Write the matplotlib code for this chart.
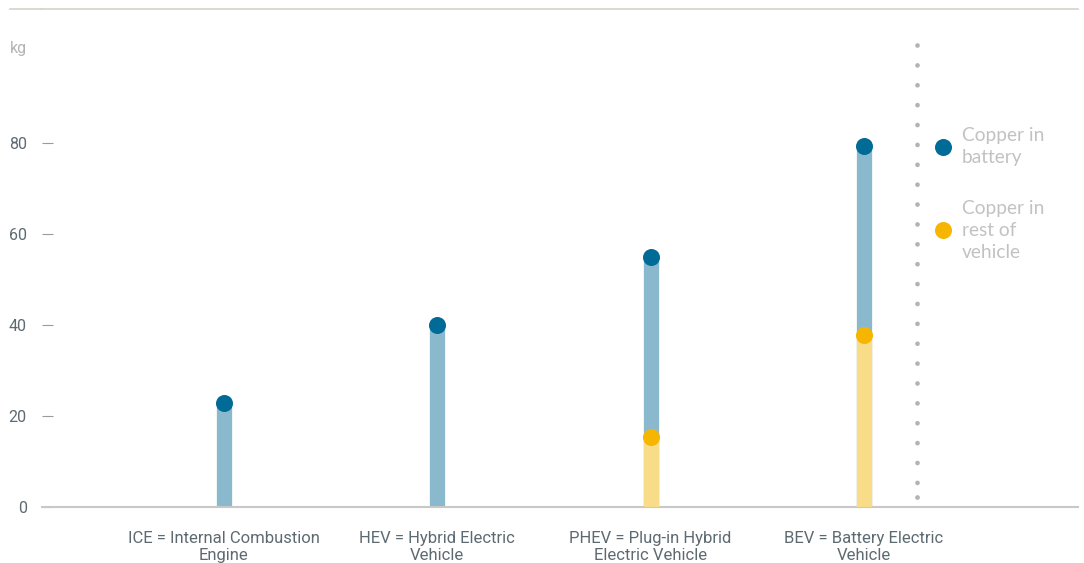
import matplotlib.pyplot as plt

# copper content per vehicle type, kg
vehicles = ["ICE = Internal Combustion\nEngine",
            "HEV = Hybrid Electric\nVehicle",
            "PHEV = Plug-in Hybrid\nElectric Vehicle",
            "BEV = Battery Electric\nVehicle"]
copper_total = [22.8, 40, 55, 79.4]
copper_rest = [None, None, 15.5, 37.8]
yticks = [0, 20, 40, 60, 80]

dark_blue = "#006b97"
light_blue = "#8ab9cd"
yellow = "#f6b500"
light_yellow = "#f8dc88"
tick_grey = "#5e6a72"

fig = plt.figure(figsize=(10.84, 5.63), dpi=100)
W, H = 1084, 563
ax = fig.add_axes([42 / W, (H - 507) / H, (1078 - 42) / W, (507 - 9) / H])

x = list(range(len(vehicles)))
ax.set_xlim(-0.853, 4.004)
ax.set_ylim(0, 109.5)

# stems and dots
for i, tot in enumerate(copper_total):
    ax.plot([i, i], [0, tot], color=light_blue, lw=11, solid_capstyle="butt", zorder=2)
    rest = copper_rest[i]
    if rest is not None:
        ax.plot([i, i], [0, rest], color=light_yellow, lw=11, solid_capstyle="butt", zorder=3)
        ax.scatter(i, rest, s=150, color=yellow, zorder=5, linewidths=0)
    ax.scatter(i, tot, s=150, color=dark_blue, zorder=5, linewidths=0)

# dotted separator before the legend (drawn top-down so the pattern starts at the top)
sep_x = 3.249
ax.plot([sep_x, sep_x], [101.5, 2.2], color="#b3b3b3", lw=3.4,
        linestyle=(0, (0.01, 4.2)), dash_capstyle="round", zorder=1)
ax.plot([sep_x], [2.2], "o", color="#b3b3b3", ms=3.4, mew=0, zorder=1)

# legend
leg_kw = dict(va="center", ha="left", fontsize=13.8, color="#c2c2c2",
              family="Lato", linespacing=1.38)
ax.scatter(3.371, 79.2, s=150, color=dark_blue, linewidths=0, clip_on=False)
ax.text(3.46, 79.3, "Copper in\nbattery", **leg_kw)
ax.scatter(3.371, 60.9, s=150, color=yellow, linewidths=0, clip_on=False)
ax.text(3.46, 60.8, "Copper in\nrest of\nvehicle", **leg_kw)

# spines
for s in ["left", "right"]:
    ax.spines[s].set_visible(False)
ax.spines["bottom"].set_color("#c8c8c8")
ax.spines["bottom"].set_linewidth(1.5)
ax.spines["top"].set_color("#d6d2cb")
ax.spines["top"].set_linewidth(1.2)

ax.set_xticks(x)
ax.set_xticklabels(vehicles, fontsize=12, color=tick_grey, family="Roboto",
                   linespacing=1.2)
ax.tick_params(axis="x", length=0, pad=17)

ax.set_yticks(yticks)
ax.set_yticklabels([str(v) for v in yticks], fontsize=11.5, color=tick_grey, family="Roboto")
ax.tick_params(axis="y", length=8, width=0.8, color="#9a9a9a", pad=11, direction="in")

ax.text(-0.965, 100.8, "kg", fontsize=11.5, color="#b3b3b3", family="Roboto",
        va="center", ha="center", clip_on=False)

# top line extends further left than the axes
fig.add_artist(plt.Line2D([10 / W, 42 / W], [(H - 9) / H] * 2, color="#d6d2cb", lw=1.2))

fig.savefig("out.png", dpi=100)
